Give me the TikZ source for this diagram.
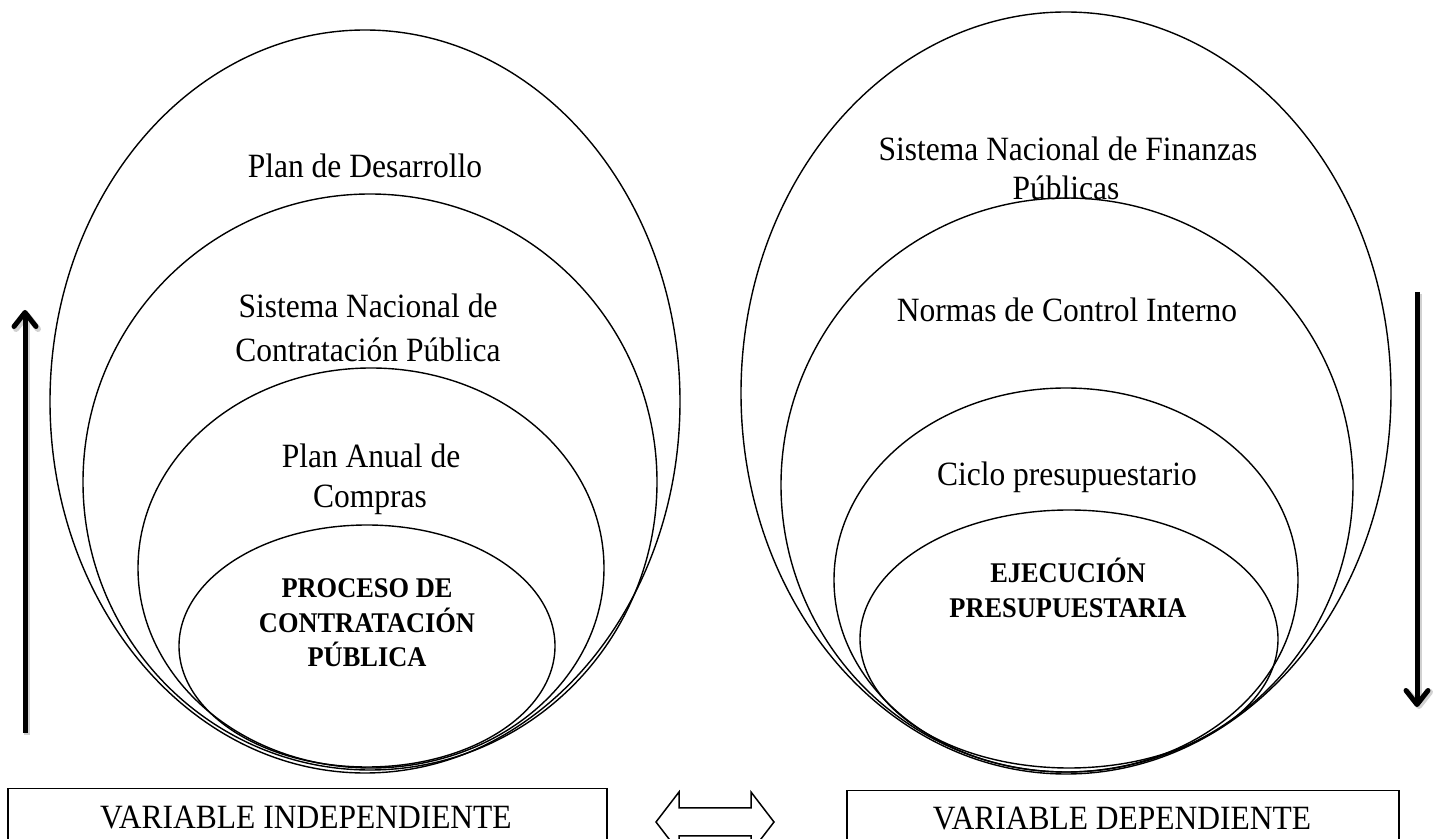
\documentclass[tikz,border=0pt]{standalone}
\usepackage{fontspec}
\usepackage{graphicx}
\setmainfont{Liberation Serif}
\usetikzlibrary{shapes.geometric,arrows.meta}
\newcommand{\tallt}[1]{\scalebox{1}[1.08]{#1}}
\begin{document}
\begin{tikzpicture}[x=1pt,y=-1pt,
  oval/.style={draw, ellipse, inner sep=0pt, outer sep=0pt, line width=0.7pt},
  lbl/.style={font=\fontsize{15.75}{18}\selectfont, anchor=base, inner sep=0pt},
  blbl/.style={font=\fontsize{13.2}{16}\selectfont\bfseries, anchor=base, inner sep=0pt},
  varbox/.style={draw, line width=0.75pt, inner sep=0pt, anchor=north west},
  bigarrow/.style={line width=2.5pt, -{Straight Barb[length=7pt,width=11pt,round]}},
  arrowshadow/.style={line width=3pt, black!18, -{Straight Barb[length=7pt,width=11pt,round]}},
  blockarrow/.style={draw, line width=0.75pt, line join=miter}
]
\useasboundingbox (0,0) rectangle (718.5,419.5);
\clip (0,0) rectangle (718.5,419.5);

% left nested ovals
\node[oval, minimum width=315pt, minimum height=371.5pt] (L1) at (182.5,200.75) {};
\node[oval, minimum width=287pt, minimum height=288pt] (L2) at (185,241) {};
\node[oval, minimum width=233pt, minimum height=200pt] (L3) at (185.5,284) {};
\node[oval, minimum width=188pt, minimum height=121pt] (L4) at (183.5,323) {};

% right nested ovals
\node[oval, minimum width=325pt, minimum height=381pt] (R1) at (533,196.5) {};
\node[oval, minimum width=286pt, minimum height=287pt] (R2) at (533.5,242.5) {};
\node[oval, minimum width=232pt, minimum height=192pt] (R3) at (533,290) {};
\node[oval, minimum width=209pt, minimum height=129pt] (R4) at (534.5,319.5) {};

% left labels
\node[lbl] (tPD) at (182.5,89) {\tallt{Plan de Desarrollo}};
\node[lbl] (tSN1) at (184,159) {\tallt{Sistema Nacional de}};
\node[lbl] (tSN2) at (184,181) {\tallt{Contratación Pública}};
\node[lbl] (tPA1) at (185.5,234) {\tallt{Plan Anual de}};
\node[lbl] (tPA2) at (185,254) {\tallt{Compras}};
\node[blbl] (tPR1) at (183.5,299) {\tallt{PROCESO DE}};
\node[blbl] (tPR2) at (183.5,316.5) {\tallt{CONTRATACIÓN}};
\node[blbl] (tPR3) at (183.5,333.5) {\tallt{PÚBLICA}};

% right labels
\node[lbl] (tSF1) at (534,80.5) {\tallt{Sistema Nacional de Finanzas}};
\node[lbl] (tSF2) at (533,100) {\tallt{Públicas}};
\node[lbl] (tNC) at (533.5,161) {\tallt{Normas de Control Interno}};
\node[lbl] (tCP) at (533.5,243) {\tallt{Ciclo presupuestario}};
\node[blbl] (tEJ1) at (534,291.5) {\tallt{EJECUCIÓN}};
\node[blbl] (tEJ2) at (534,309) {\tallt{PRESUPUESTARIA}};

% bottom boxes
\node[varbox, minimum width=299.5pt, minimum height=60pt] (boxL) at (3.5,394) {};
\node[varbox, minimum width=276pt, minimum height=60pt] (boxR) at (423,395) {};
\node[lbl] (tVI) at (153,414) {\tallt{VARIABLE INDEPENDIENTE}};
\node[lbl] (tVD) at (561,415) {\tallt{VARIABLE DEPENDIENTE}};

% vertical arrows (with a soft shadow)
\coordinate (upS) at (12.5,366.5);
\coordinate (upE) at (12.5,155);
\coordinate (upSs) at (13.5,367.5);
\coordinate (upEs) at (13.5,156);
\draw[arrowshadow] (upSs) -- (upEs);
\draw[bigarrow] (upS) -- (upE);
\coordinate (dnS) at (708.5,146);
\coordinate (dnE) at (708.5,353.5);
\coordinate (dnSs) at (709.5,147);
\coordinate (dnEs) at (709.5,354.5);
\draw[arrowshadow] (dnSs) -- (dnEs);
\draw[bigarrow] (dnS) -- (dnE);

% double block arrow between boxes
\draw[blockarrow] (328,411) -- (339.5,396) -- (339.5,404) -- (375.5,404) -- (375.5,396)
  -- (387,411) -- (375.5,426) -- (375.5,418) -- (339.5,418) -- (339.5,426) -- cycle;
\end{tikzpicture}
\end{document}
